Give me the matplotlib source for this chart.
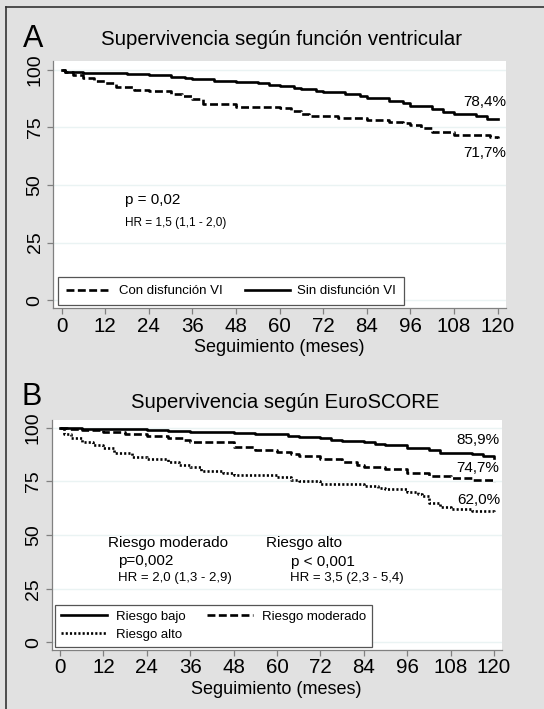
import matplotlib
matplotlib.use("Agg")
import matplotlib.pyplot as plt
from matplotlib.lines import Line2D

plt.rcParams['font.family'] = ['Liberation Sans', 'DejaVu Sans']

# Panel A: survival by ventricular function
t_sin = [0, 1, 3, 6, 12, 18, 24, 30, 34, 36, 42, 48, 54, 57, 60, 64, 66, 70, 72, 78, 82, 84, 90, 94, 96, 102, 105, 108, 114, 117, 120]
s_sin = [100, 99.2, 98.9, 98.7, 98.5, 98.1, 97.8, 97.0, 96.4, 95.8, 95.1, 94.7, 94.1, 93.5, 92.8, 92.1, 91.5, 90.8, 90.3, 89.4, 88.7, 87.8, 86.6, 85.4, 84.3, 82.8, 81.6, 80.9, 80.0, 78.8, 78.4]
t_con = [0, 1, 3, 6, 9, 12, 15, 20, 24, 30, 33, 36, 39, 48, 60, 63, 66, 68, 76, 84, 90, 94, 96, 99, 102, 108, 118, 120]
s_con = [100, 98.8, 97.7, 96.2, 95.2, 94.4, 92.6, 91.4, 90.6, 89.5, 88.4, 87.4, 85.3, 84.0, 83.4, 82.2, 81.0, 79.9, 79.0, 78.2, 77.4, 77.0, 76.0, 74.6, 73.0, 71.8, 71.0, 70.5]

# Panel B: survival by EuroSCORE
t_bajo = [0, 1, 6, 12, 24, 30, 36, 48, 54, 60, 63, 66, 72, 75, 78, 84, 87, 90, 96, 102, 105, 114, 117, 120]
s_bajo = [100, 99.7, 99.6, 99.4, 98.8, 98.4, 97.8, 97.5, 97.3, 96.9, 96.3, 95.8, 95.0, 94.4, 94.0, 93.4, 92.6, 92.0, 90.7, 89.7, 88.4, 87.6, 86.6, 85.9]
t_mod = [0, 2, 6, 12, 18, 24, 30, 34, 36, 48, 54, 60, 64, 66, 72, 78, 82, 84, 90, 96, 102, 108, 114, 120]
s_mod = [100, 99.3, 98.8, 97.8, 96.9, 96.1, 95.4, 94.5, 93.4, 91.2, 89.8, 88.6, 87.8, 86.6, 85.3, 83.8, 82.5, 81.9, 80.7, 78.9, 77.6, 76.5, 75.5, 74.7]
t_alto = [0, 1, 3, 6, 9, 12, 15, 20, 24, 30, 33, 36, 39, 45, 48, 60, 64, 66, 72, 84, 88, 90, 96, 99, 100, 102, 105, 108, 114, 120]
s_alto = [100, 97.0, 95.0, 93.5, 91.8, 90.4, 88.1, 86.4, 85.5, 83.8, 82.6, 81.5, 79.9, 78.8, 78.1, 77.0, 75.8, 75.0, 73.9, 72.7, 72.0, 71.4, 69.9, 69.0, 68.0, 65.0, 63.2, 61.9, 61.1, 60.3]

xticks = list(range(0, 121, 12))
yticks = [0, 25, 50, 75, 100]

bg = '#e1e1e1'
axis_col = '#808080'
dash = (0, (3, 1.3))
dot = (0, (0.8, 0.8))

fig = plt.figure(figsize=(5.44, 7.09), dpi=100, facecolor=bg)


def style_axes(ax):
    ax.set_facecolor('white')
    ax.set_xlim(-2.3, 122.3)
    ax.set_ylim(-3.6, 103.8)
    ax.set_xticks(xticks)
    ax.set_yticks(yticks)
    for y in yticks:
        ax.axhline(y, color='#eaf3f3', lw=1.0, zorder=0)
    for side in ['top', 'right']:
        ax.spines[side].set_visible(False)
    for side in ['left', 'bottom']:
        ax.spines[side].set_color(axis_col)
        ax.spines[side].set_linewidth(0.9)
    ax.tick_params(axis='x', length=4, width=0.9, color=axis_col, labelsize=14.8, pad=2)
    ax.tick_params(axis='y', length=4, width=0.9, color=axis_col, labelsize=14, pad=3)
    for lab in ax.get_yticklabels():
        lab.set_rotation(90)
        lab.set_va('center')
    ax.set_xlabel('Seguimiento (meses)', fontsize=13, labelpad=2.5)


# Panel A
axA = fig.add_axes([0.098, 0.565, 0.832, 0.349])
style_axes(axA)
axA.plot(t_con, s_con, drawstyle='steps-post', color='black', lw=1.9, ls=dash)
axA.plot(t_sin, s_sin, drawstyle='steps-post', color='black', lw=1.9)
axA.text(122.3, 86.1, '78,4%', ha='right', va='center', fontsize=11)
axA.text(122.3, 63.7, '71,7%', ha='right', va='center', fontsize=11)
axA.text(17.4, 43.4, 'p = 0,02', ha='left', va='center', fontsize=11)
axA.text(17.4, 33.6, 'HR = 1,5 (1,1 - 2,0)', ha='left', va='center', fontsize=8.5)
handlesA = [Line2D([], [], color='black', lw=1.9, ls=dash),
            Line2D([], [], color='black', lw=1.9)]
legA = axA.legend(handlesA, ['Con disfunción VI', 'Sin disfunción VI'], ncol=2,
                  loc='lower left', bbox_to_anchor=(0.01, 0.013), borderaxespad=0,
                  fontsize=9.5, fancybox=False, framealpha=1, edgecolor='#555555',
                  handlelength=3.4, columnspacing=1.7, borderpad=0.6, handletextpad=0.6)
legA.get_frame().set_linewidth(0.9)
fig.text(0.518, 0.9446, 'Supervivencia según función ventricular', ha='center', va='center', fontsize=14.7)
fig.text(0.0607, 0.945, 'A', ha='center', va='center', fontsize=22)

# Panel B
axB = fig.add_axes([0.095, 0.0832, 0.827, 0.3244])
style_axes(axB)
axB.set_xlim(-2.3, 122.1)
axB.set_ylim(-3.6, 103.6)
axB.plot(t_bajo, s_bajo, drawstyle='steps-post', color='black', lw=1.9)
axB.plot(t_mod, s_mod, drawstyle='steps-post', color='black', lw=1.9, ls=dash)
axB.plot(t_alto, s_alto, drawstyle='steps-post', color='black', lw=1.9, ls=dot)
axB.text(121.5, 94.5, '85,9%', ha='right', va='center', fontsize=11)
axB.text(121.5, 81.3, '74,7%', ha='right', va='center', fontsize=11)
axB.text(121.7, 66.3, '62,0%', ha='right', va='center', fontsize=11)
axB.text(13.4, 46.1, 'Riesgo moderado', ha='left', va='center', fontsize=11)
axB.text(16.1, 38.0, 'p=0,002', ha='left', va='center', fontsize=11)
axB.text(16.1, 29.8, 'HR = 2,0 (1,3 - 2,9)', ha='left', va='center', fontsize=9.5)
axB.text(57.1, 46.1, 'Riesgo alto', ha='left', va='center', fontsize=11)
axB.text(63.9, 37.5, 'p < 0,001', ha='left', va='center', fontsize=11)
axB.text(63.6, 29.8, 'HR = 3,5 (2,3 - 5,4)', ha='left', va='center', fontsize=9.5)
handlesB = [Line2D([], [], color='black', lw=1.9),
            Line2D([], [], color='black', lw=1.9, ls=dot),
            Line2D([], [], color='black', lw=1.9, ls=dash)]
legB = axB.legend(handlesB, ['Riesgo bajo', 'Riesgo alto', 'Riesgo moderado'], ncol=2,
                  loc='lower left', bbox_to_anchor=(0.007, 0.013), borderaxespad=0,
                  fontsize=9.5, fancybox=False, framealpha=1, edgecolor='#555555',
                  handlelength=3.5, columnspacing=1.6, borderpad=0.45, handletextpad=0.7,
                  labelspacing=0.45)
legB.get_frame().set_linewidth(0.9)
fig.text(0.525, 0.433, 'Supervivencia según EuroSCORE', ha='center', va='center', fontsize=14.6)
fig.text(0.058, 0.4396, 'B', ha='center', va='center', fontsize=22)

# outer frame (left and top edges only visible)
fig.add_artist(Line2D([6 / 544, 6 / 544], [0, 1 - 7 / 709], color='#333333', lw=1.2, transform=fig.transFigure))
fig.add_artist(Line2D([6 / 544, 1], [1 - 7 / 709, 1 - 7 / 709], color='#333333', lw=1.2, transform=fig.transFigure))

fig.savefig('out.png', dpi=100, facecolor=bg)
